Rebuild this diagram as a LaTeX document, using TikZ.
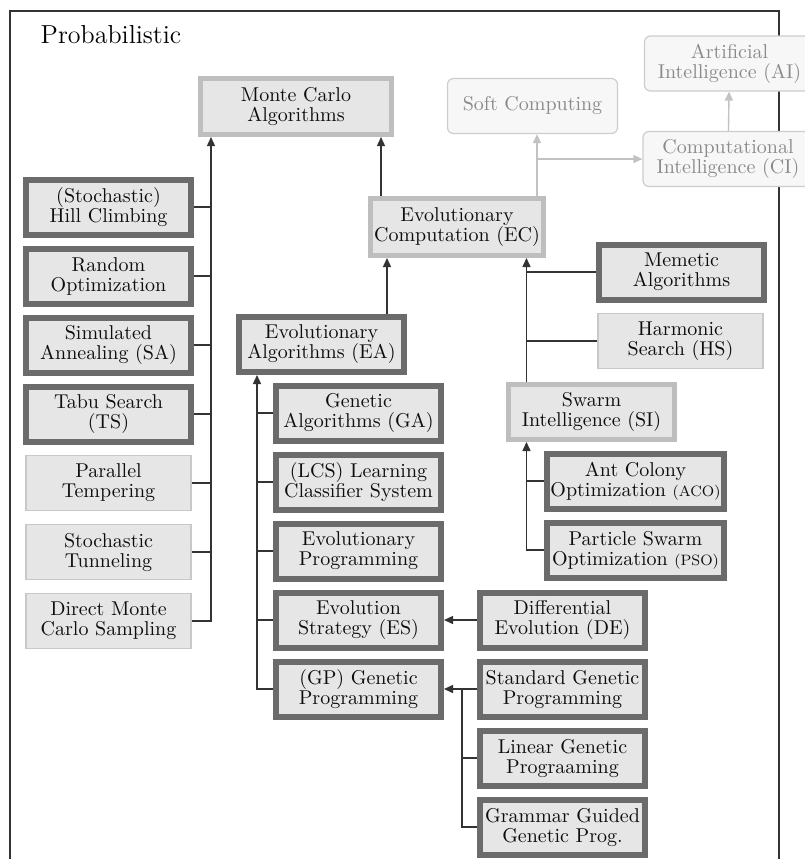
\documentclass[tikz,border=0pt]{standalone}
\usepackage{xcolor}
\usetikzlibrary{arrows.meta,positioning}
\definecolor{boxgray}{HTML}{E6E6E6}
\definecolor{darkrim}{HTML}{6B6B6B}
\definecolor{lightrim}{HTML}{BEBEBE}
\definecolor{thinrim}{HTML}{C8C8C8}
\definecolor{fieldrim}{HTML}{CDCDCD}
\definecolor{fieldtext}{HTML}{8A8A8A}
\definecolor{linegray}{HTML}{333333}
\definecolor{softgray}{HTML}{C2C2C2}

\begin{document}
\begin{tikzpicture}[
  x=0.5pt, y=-0.5pt,
  >={Triangle[length=4.5pt,width=4pt]},
  font=\fontsize{10}{10}\selectfont,
  on grid,
  algo/.style={rectangle, draw=darkrim, line width=3pt, fill=boxgray, minimum width=82.5pt, minimum height=27.5pt, inner sep=1pt, align=center, text=black!95},
  family/.style={algo, draw=lightrim, line width=2.5pt},
  variant/.style={algo, draw=thinrim, line width=0.6pt},
  field/.style={rectangle, rounded corners=3pt, draw=fieldrim, line width=0.6pt, fill=black!3, minimum width=85pt, minimum height=27.5pt, inner sep=1pt, align=center, text=fieldtext},
  flow/.style={->, draw=linegray, line width=0.7pt},
  link/.style={draw=linegray, line width=0.7pt},
  softflow/.style={->, draw=softgray, line width=0.7pt}
]
  \useasboundingbox (0,0) rectangle (805,859);
  \draw[line width=0.6pt, draw=black!80] (10,859) |- (779,11) -- (779,859);
  \node[font=\fontsize{13}{15}\selectfont] (title) at (111,35) {Probabilistic};

  % top level
  \node[family, minimum width=95.5pt, minimum height=28pt] (mc) at (296,106.5) {Monte Carlo\\Algorithms};
  \node[field] (sc) at (532.5,106) {Soft Computing};
  \node[field] (ai) at (729.5,63.5) {Artificial\\Intelligence (AI)};
  \node[field] (ci) at (728,159) {Computational\\Intelligence (CI)};
  \node[family, minimum width=86.5pt, minimum height=28.5pt] (ec) at (457,227) {Evolutionary\\Computation (EC)};

  % left column
  \node[algo] (hc) at (108.5,207) {(Stochastic)\\Hill Climbing};
  \node[algo, below=34.5pt of hc] (ro) {Random\\Optimization};
  \node[algo, below=34.5pt of ro] (sa) {Simulated\\Annealing (SA)};
  \node[algo, below=34.5pt of sa] (ts) {Tabu Search\\(TS)};
  \node[variant, below=34.5pt of ts] (pt) {Parallel\\Tempering};
  \node[variant, below=34.5pt of pt] (st) {Stochastic\\Tunneling};
  \node[variant, below=34.5pt of st] (dmc) {Direct Monte\\Carlo Sampling};

  % evolutionary algorithms
  \node[algo] (ea) at (321.5,344.5) {Evolutionary\\Algorithms (EA)};
  \node[algo] (ga) at (358.5,413) {Genetic\\Algorithms (GA)};
  \node[algo, below=34.5pt of ga] (lcs) {(LCS) Learning\\Classifier System};
  \node[algo, below=34.5pt of lcs] (ep) {Evolutionary\\Programming};
  \node[algo, below=34.5pt of ep] (es) {Evolution\\Strategy (ES)};
  \node[algo, below=34.5pt of es] (gp) {(GP) Genetic\\Programming};
  \node[algo, right=102pt of es] (de) {Differential\\Evolution (DE)};
  \node[algo, right=102pt of gp] (sgp) {Standard Genetic\\Programming};
  \node[algo, below=34.5pt of sgp] (lgp) {Linear Genetic\\Prograaming};
  \node[algo, below=34.5pt of lgp] (gggp) {Grammar Guided\\Genetic Prog.};

  % right column
  \node[algo] (mem) at (681.5,272) {Memetic\\Algorithms};
  \node[variant] (hs) at (680.5,341) {Harmonic\\Search (HS)};
  \node[family, minimum width=83pt, minimum height=27.5pt] (si) at (591.5,412) {Swarm\\Intelligence (SI)};
  \node[algo, minimum width=88.5pt] (aco) at (635.5,481) {Ant Colony\\Optimization {\fontsize{7.5}{9}\selectfont(ACO)}};
  \node[algo, minimum width=88.5pt, below=34.5pt of aco] (pso) {Particle Swarm\\Optimization {\fontsize{7.5}{9}\selectfont(PSO)}};

  % buses
  \coordinate (mcbus) at (211,0);
  \coordinate (eabus) at (387,0);
  \coordinate (sibus) at (526.5,0);
  \coordinate (easub) at (257,0);
  \coordinate (gpbus) at (462,0);
  \coordinate (cibus) at (537,0);

  \draw[flow] (dmc.east) -| (mcbus |- mc.south);
  \foreach \n in {hc,ro,sa,ts,pt,st}
    \draw[link] (\n.east) -- (\n.east -| mcbus);
  \draw[flow] ([xshift=6.5pt]ec.north west) -- ([xshift=6.5pt]ec.north west |- mc.south);

  \draw[flow] (ea.north -| eabus) -- (ec.south -| eabus);
  \draw[flow] (gp.west) -| (ea.south -| easub);
  \foreach \n in {ga,lcs,ep,es}
    \draw[link] (\n.west) -- (\n.west -| easub);
  \draw[flow] (de) -- (es);
  \draw[flow] (sgp) -- (gp);
  \draw[link] (gggp.west) -| (gp.east -| gpbus);
  \draw[link] (lgp.west) -- (lgp.west -| gpbus);

  \draw[flow] (si.north -| sibus) -- (ec.south -| sibus);
  \draw[link] (mem.west) -- (mem.west -| sibus);
  \draw[link] (hs.west) -- (hs.west -| sibus);
  \draw[flow] (pso.west) -| (si.south -| sibus);
  \draw[link] (aco.west) -- (aco.west -| sibus);

  \draw[softflow] (ec.north -| cibus) -- (sc.south -| cibus);
  \draw[softflow] (cibus |- ci.west) -- (ci.west);
  \draw[softflow] (ci) -- (ai);
\end{tikzpicture}
\end{document}
